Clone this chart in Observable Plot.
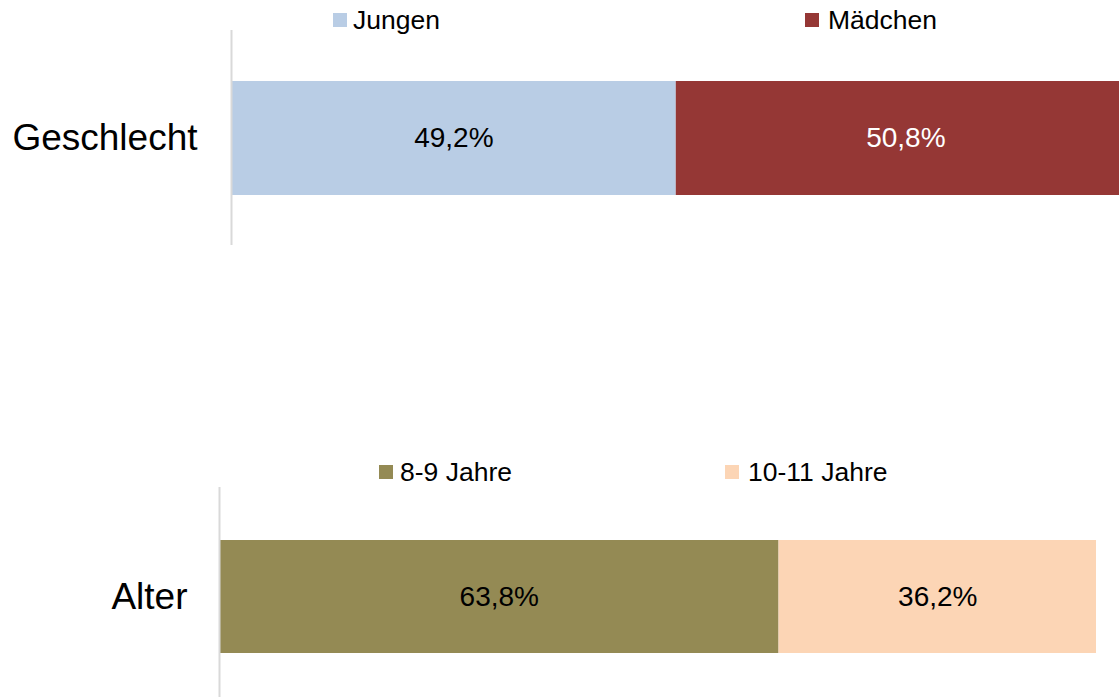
<!DOCTYPE html>
<html>
<head>
<meta charset="utf-8">
<script src="https://cdn.jsdelivr.net/npm/d3@7"></script>
<script src="https://cdn.jsdelivr.net/npm/@observablehq/plot@0.6"></script>
<style>
  html, body { margin: 0; padding: 0; background: #fff; overflow: hidden; width: 1119px; height: 697px; }
  #wrap { position: relative; width: 1119px; height: 697px; overflow: hidden; font-family: "Liberation Sans", Arial, sans-serif; }
  .chart { position: absolute; left: 0; max-width: none !important; }
  .sw { position: absolute; width: 14px; height: 14px; }
  .lt { position: absolute; font-size: 26.5px; line-height: 26.5px; color: #000; white-space: nowrap; }
</style>
</head>
<body>
<div id="wrap"></div>
<script>
// ---- data ----
const categories = ["Geschlecht", "Alter"];
const geschlechtGroups = ["Jungen", "Mädchen"];
const geschlechtValues = [49.2, 50.8];
const geschlechtColors = ["#B9CDE5", "#953735"];
const geschlechtTextColors = ["#000000", "#FFFFFF"];
const alterGroups = ["8-9 Jahre", "10-11 Jahre"];
const alterValues = [63.8, 36.2];
const alterColors = ["#948A54", "#FCD5B5"];
const alterTextColors = ["#000000", "#000000"];

const fmt = v => v.toFixed(1).replace(".", ",") + "%";
const wrap = document.getElementById("wrap");

function makeChart(cfg) {
  const rows = cfg.groups.map((g, i) => ({cat: cfg.cat, group: g, value: cfg.values[i], tc: cfg.textColors[i]}));
  const svg = Plot.plot({
    width: cfg.width,
    height: cfg.height,
    marginLeft: cfg.marginLeft,
    marginRight: cfg.marginRight,
    marginTop: cfg.marginTop,
    marginBottom: cfg.marginBottom,
    style: {fontFamily: '"Liberation Sans", Arial, sans-serif', background: "transparent", overflow: "visible", maxWidth: "none"},
    x: {domain: [0, 100], axis: null},
    y: {domain: [cfg.cat], paddingInner: 0, paddingOuter: cfg.paddingOuter, align: cfg.align, axis: null},
    color: {domain: cfg.groups, range: cfg.colors},
    marks: [
      Plot.barX(rows, Plot.stackX({x: "value", y: "cat", fill: "group", order: null})),
      Plot.text(rows, Plot.stackX({x: "value", y: "cat", z: "group", order: null, text: d => fmt(d.value), fill: "tc", fontSize: 28})),
      Plot.ruleX([0], {stroke: "#D9D9D9", strokeWidth: 2}),
      Plot.axisY({tickSize: 0, tickPadding: cfg.tickPadding, fontSize: 37, fill: "#000", label: null})
    ]
  });
  svg.classList.add("chart");
  svg.style.top = cfg.top + "px";
  svg.style.maxWidth = "none";
  wrap.appendChild(svg);

  cfg.groups.forEach((g, i) => {
    const sw = document.createElement("div");
    sw.className = "sw";
    sw.style.left = cfg.legendX[i] + "px";
    sw.style.top = cfg.legendSwTop + "px";
    sw.style.background = cfg.colors[i];
    wrap.appendChild(sw);
    const t = document.createElement("div");
    t.className = "lt";
    t.style.left = cfg.legendTextX[i] + "px";
    t.style.top = cfg.legendTextTop + "px";
    t.textContent = g;
    wrap.appendChild(t);
  });
}

makeChart({
  cat: categories[0], groups: geschlechtGroups, values: geschlechtValues,
  colors: geschlechtColors, textColors: geschlechtTextColors,
  top: 0, width: 1135, height: 250, marginLeft: 231, marginRight: 0, marginTop: 30, marginBottom: 5,
  paddingOuter: 0.435, align: 0.5, tickPadding: 34,
  legendX: [333, 805], legendTextX: [353, 828], legendSwTop: 13, legendTextTop: 7
});

makeChart({
  cat: categories[1], groups: alterGroups, values: alterValues,
  colors: alterColors, textColors: alterTextColors,
  top: 487, width: 1119, height: 210, marginLeft: 219, marginRight: 23, marginTop: 0, marginBottom: 0,
  paddingOuter: 0.429, align: 0.546, tickPadding: 32,
  legendX: [379, 725], legendTextX: [400, 748], legendSwTop: 465, legendTextTop: 459
});
</script>
</body>
</html>
